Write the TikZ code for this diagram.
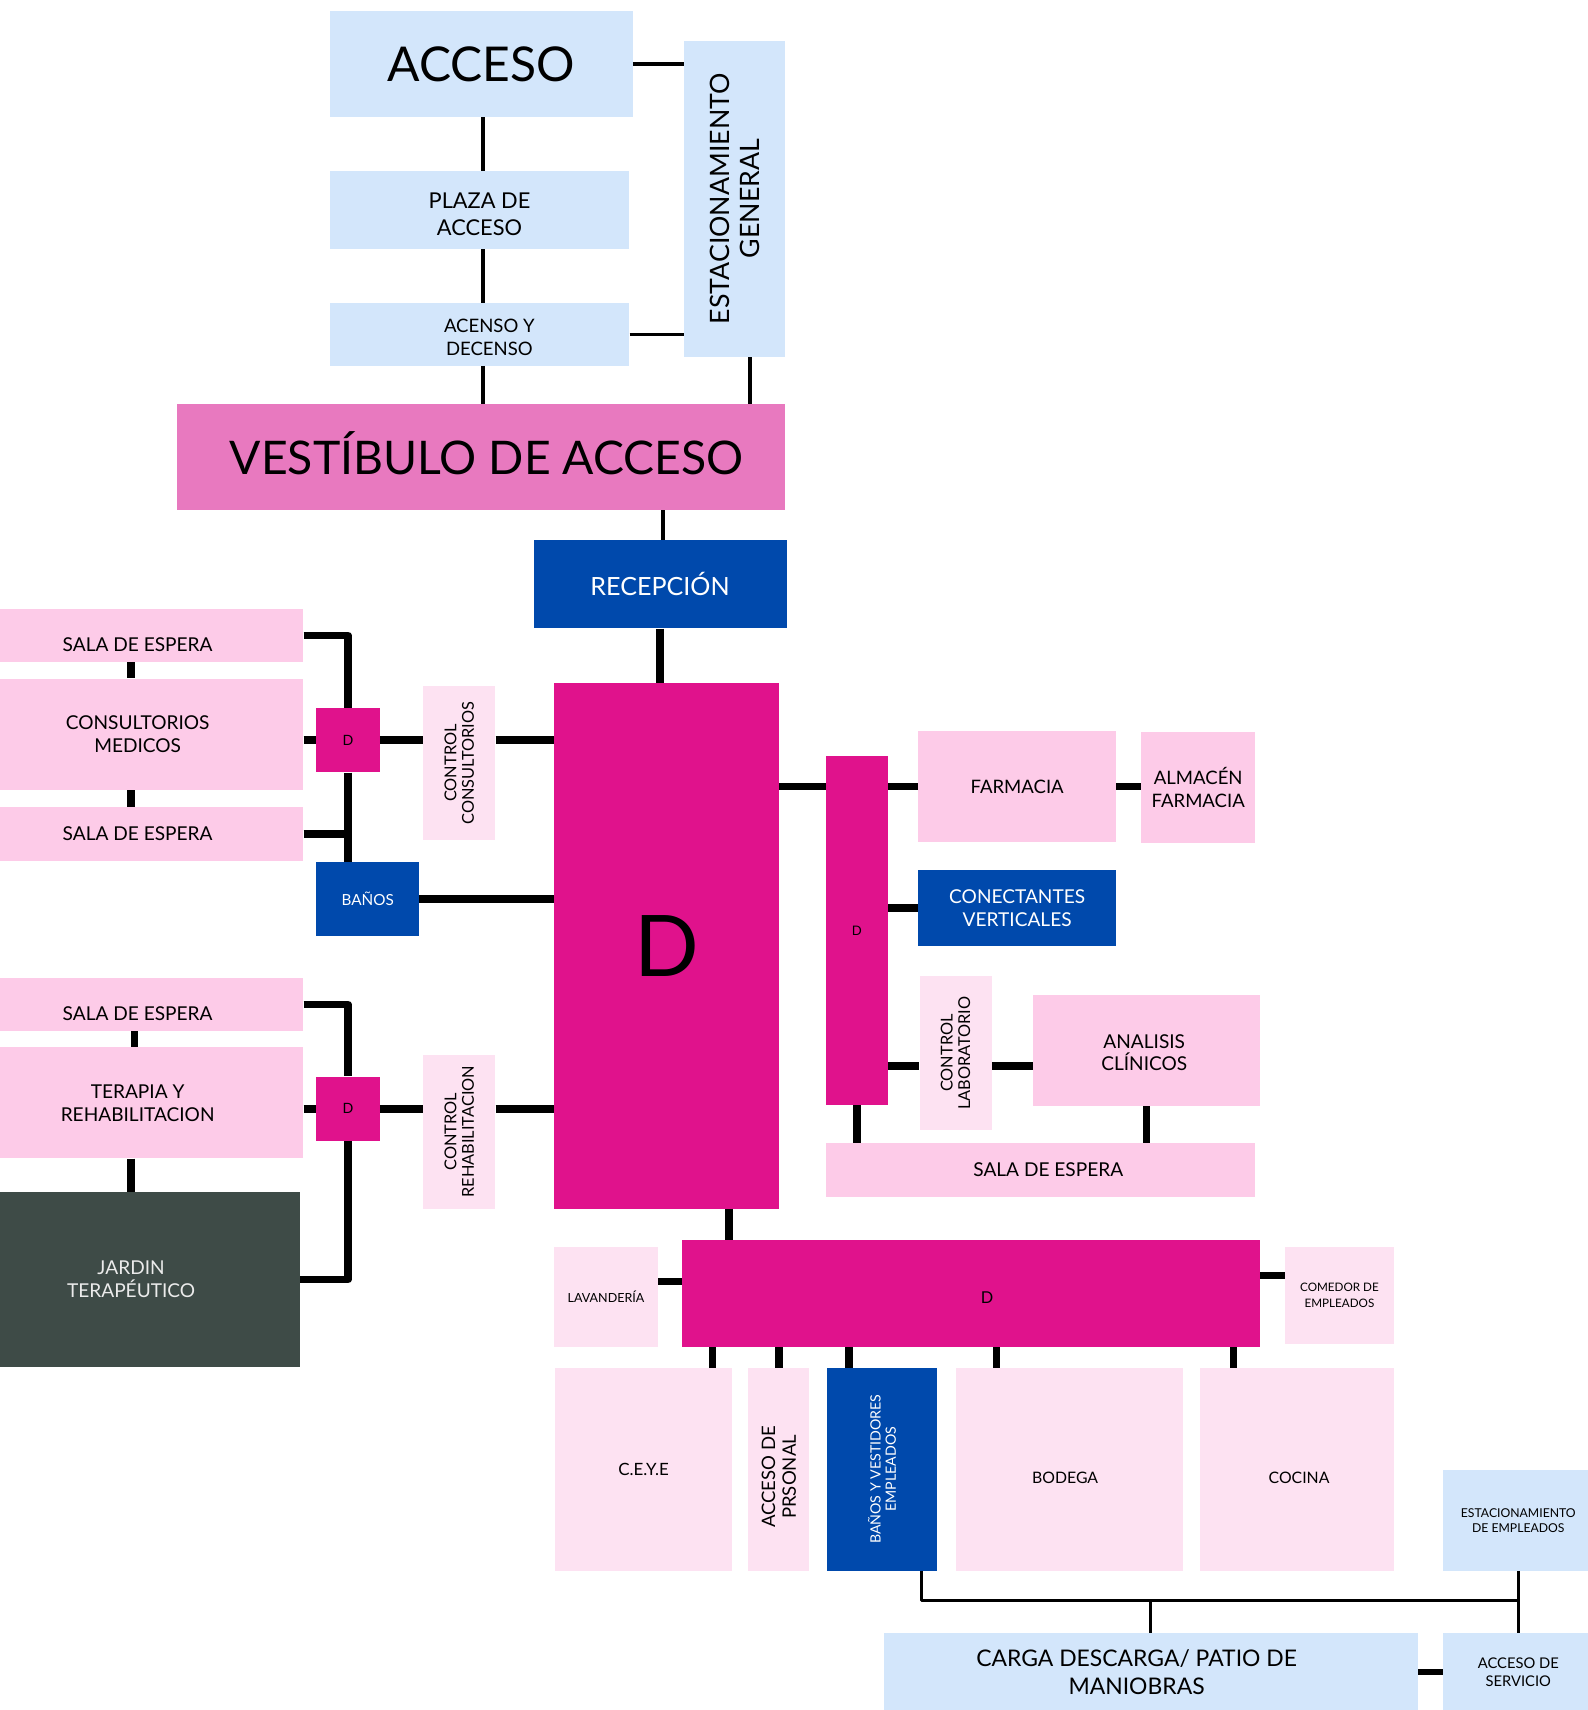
\documentclass[tikz,border=0pt]{standalone}
\usepackage{fontspec}
\setmainfont{Lato}
\usepackage{xcolor}
\definecolor{lBlue}{HTML}{D3E6FB}
\definecolor{pinkA}{HTML}{FDCBE8}
\definecolor{pinkB}{HTML}{FDE2F2}
\definecolor{magD}{HTML}{E0128C}
\definecolor{vestPink}{HTML}{E879BF}
\definecolor{dBlue}{HTML}{0049AC}
\definecolor{jardinGray}{HTML}{3E4B47}
\newcommand{\setfs}[2]{\fontsize{#1}{#2}\selectfont}
\tikzset{
  box/.style={rectangle, inner sep=0pt, anchor=north west, align=center, text=black},
  rot/.style={rotate=90, align=center, inner sep=0pt},
  txt/.style={align=center, inner sep=0pt},
  link/.style={line width=7pt, line join=round},
  thinlink/.style={line width=3.5pt},
  buslink/.style={line width=3pt, line join=round}
}

\begin{document}
\begin{tikzpicture}[x=1pt, y=-1pt]
        \useasboundingbox (0,0) rectangle (1456,1568);
        % acceso principal
        \node [box, fill=lBlue, minimum width=278, minimum height=97, font=\setfs{44}{48}] (acceso) at (302,10) {ACCESO};
        \node [box, fill=lBlue, minimum width=275, minimum height=71,
          label={[txt, yshift=-4pt, font=\setfs{20}{25}]center:PLAZA DE\\ACCESO}] (plaza) at (302,157) {};
        \node [box, fill=lBlue, minimum width=275, minimum height=57,
          label={[txt, xshift=9pt, yshift=-3pt, font=\setfs{17}{21}]center:ACENSO Y\\DECENSO}] (acenso) at (302,278) {};
        \node [box, fill=lBlue, minimum width=93, minimum height=290,
          label={[rot, font=\setfs{24.5}{28}]center:ESTACIONAMIENTO\\GENERAL}] (estgen) at (627,37) {};
        \node [box, fill=vestPink, minimum width=558, minimum height=97,
          label={[txt, xshift=5pt, yshift=3pt, font=\setfs{42.5}{48}]center:VESTÍBULO DE ACCESO}] (vest) at (162,370) {};
        \node [box, fill=dBlue, text=white, minimum width=232, minimum height=81, font=\setfs{23}{26}] (recep) at (489,495) {RECEPCIÓN};
        \node [box, fill=magD, minimum width=206, minimum height=482, font=\setfs{78}{80}] (bigd) at (508,626) {D};

        % consultorios
        \node [box, fill=pinkA, minimum width=304, minimum height=49,
          label={[txt, yshift=-8pt, font=\setfs{17.5}{21}]center:SALA DE ESPERA}] (sala1) at (-26,558) {};
        \node [box, fill=pinkA, minimum width=304, minimum height=102, font=\setfs{17.5}{21}] (cons) at (-26,622) {CONSULTORIOS\\MEDICOS};
        \node [box, fill=pinkA, minimum width=304, minimum height=49, font=\setfs{17.5}{21}] (sala2) at (-26,740) {SALA DE ESPERA};
        \node [box, fill=magD, minimum width=58, minimum height=59, font=\setfs{13}{15}] (dcons) at (290,649) {D};
        \node [box, fill=pinkB, minimum width=66, minimum height=141,
          label={[rot, font=\setfs{15}{16}]center:CONTROL\\CONSULTORIOS}] (ccons) at (388,629) {};
        \node [box, fill=dBlue, text=white, minimum width=94, minimum height=68, font=\setfs{14}{16}] (banos) at (290,790) {BAÑOS};

        % terapia
        \node [box, fill=pinkA, minimum width=304, minimum height=48,
          label={[txt, yshift=-8pt, font=\setfs{17.5}{21}]center:SALA DE ESPERA}] (sala3) at (-26,897) {};
        \node [box, fill=pinkA, minimum width=304, minimum height=102, font=\setfs{17.5}{21}] (ter) at (-26,960) {TERAPIA Y\\REHABILITACION};
        \node [box, fill=jardinGray, text=white!92!black, minimum width=310, minimum height=160, font=\setfs{17.5}{21}] (jardin) at (-35,1093) {JARDIN\\TERAPÉUTICO};
        \node [box, fill=magD, minimum width=58, minimum height=59, font=\setfs{13}{15}] (dter) at (290,987) {D};
        \node [box, fill=pinkB, minimum width=66, minimum height=141,
          label={[rot, font=\setfs{15}{16}]center:CONTROL\\REHABILITACION}] (crehab) at (388,967) {};

        % farmacia y laboratorio
        \node [box, fill=magD, minimum width=57, minimum height=320, font=\setfs{12}{14}] (dv) at (757,693) {D};
        \node [box, fill=pinkA, minimum width=181, minimum height=102, font=\setfs{17}{21}] (farm) at (842,670) {FARMACIA};
        \node [box, fill=pinkA, minimum width=105, minimum height=102, font=\setfs{17}{21}] (alm) at (1046,671) {ALMACÉN\\FARMACIA};
        \node [box, fill=dBlue, text=white, minimum width=181, minimum height=69, font=\setfs{17.5}{21}] (conect) at (842,798) {CONECTANTES\\VERTICALES};
        \node [box, fill=pinkB, minimum width=66, minimum height=141,
          label={[rot, font=\setfs{15}{16}]center:CONTROL\\LABORATORIO}] (clab) at (843,895) {};
        \node [box, fill=pinkA, minimum width=208, minimum height=102,
          label={[txt, xshift=-2pt, yshift=-2pt, font=\setfs{17.5}{21}]center:ANALISIS\\CLÍNICOS}] (anal) at (947,912) {};
        \node [box, fill=pinkA, minimum width=394, minimum height=49,
          label={[txt, xshift=7pt, font=\setfs{17.5}{21}]center:SALA DE ESPERA}] (sala4) at (757,1048) {};

        % servicios
        \node [box, fill=magD, minimum width=530, minimum height=98,
          label={[txt, xshift=15pt, yshift=-4pt, font=\setfs{15}{17}]center:D}] (dh) at (625,1137) {};
        \node [box, fill=pinkB, minimum width=95, minimum height=92, font=\setfs{11.5}{14}] (lav) at (508,1143) {LAVANDERÍA};
        \node [box, fill=pinkB, minimum width=100, minimum height=89, font=\setfs{10.7}{14}] (com) at (1178,1143) {COMEDOR DE\\EMPLEADOS};
        \node [box, fill=pinkB, minimum width=162, minimum height=186, font=\setfs{15.5}{18}] (ceye) at (509,1254) {C.E.Y.E};
        \node [box, fill=pinkB, minimum width=56, minimum height=186,
          label={[rot, xshift=-7pt, font=\setfs{17}{19}]center:ACCESO DE\\PRSONAL}] (accp) at (686,1254) {};
        \node [box, fill=dBlue, minimum width=101, minimum height=186,
          label={[rot, text=white, font=\setfs{13}{14}]center:BAÑOS Y VESTIDORES\\EMPLEADOS}] (bv) at (758,1254) {};
        \node [box, fill=pinkB, minimum width=209, minimum height=186,
          label={[txt, xshift=-4pt, yshift=-8pt, font=\setfs{14.5}{18}]center:BODEGA}] (bod) at (876,1254) {};
        \node [box, fill=pinkB, minimum width=178, minimum height=186,
          label={[txt, xshift=2pt, yshift=-8pt, font=\setfs{14.5}{18}]center:COCINA}] (coc) at (1100,1254) {};
        \node [box, fill=lBlue, minimum width=138, minimum height=92, font=\setfs{11.2}{14}] (estemp) at (1323,1348) {ESTACIONAMIENTO\\DE EMPLEADOS};
        \node [box, fill=lBlue, minimum width=490, minimum height=72,
          label={[txt, xshift=-13pt, font=\setfs{21}{26}]center:CARGA DESCARGA/ PATIO DE\\MANIOBRAS}] (carga) at (810,1497) {};
        \node [box, fill=lBlue, minimum width=138, minimum height=72, font=\setfs{13.5}{17}] (serv) at (1323,1497) {ACCESO DE\\SERVICIO};

        % conexiones
        \draw [thinlink] (acceso) -- (estgen.west |- acceso);
        \draw [thinlink] (acenso) -- (estgen.west |- acenso);
        \draw [thinlink] ([xshift=3pt]acceso.south -| plaza.north) -- ([xshift=3pt]plaza.north);
        \draw [thinlink] ([xshift=3pt]plaza.south) -- ([xshift=3pt]acenso.north);
        \draw [thinlink] ([xshift=3pt]acenso.south) -- ([xshift=3pt]acenso.south |- vest.north);
        \draw [thinlink] ([xshift=14pt]estgen.south) -- ([xshift=14pt]estgen.south |- vest.north);
        \draw [thinlink] ([xshift=3pt]recep.north) -- ([xshift=3pt]recep.north |- vest.south);
        \draw [link] (recep) -- (recep |- bigd.north);

        \draw [link] (sala1) -| (dcons);
        \draw [link] (sala2) -- (sala2 -| dcons);
        \draw [link] (dcons) -- (dcons |- banos.north);
        \draw [link] (cons.east |- dcons) -- (dcons.west);
        \draw [link] (dcons) -- (ccons.west |- dcons);
        \draw [link] (ccons.east |- dcons) -- (bigd.west |- dcons);
        \draw [link] (banos) -- (bigd.west |- banos);
        \draw [link] ([xshift=-6pt]sala1.south) -- ([xshift=-6pt]cons.north);
        \draw [link] ([xshift=-6pt]cons.south) -- ([xshift=-6pt]sala2.north);

        \draw [link] (sala3) -| (dter);
        \draw [link] (dter) |- (jardin);
        \draw [link] (ter.east |- dter) -- (dter.west);
        \draw [link] (dter) -- (crehab.west |- dter);
        \draw [link] (crehab.east |- dter) -- (bigd.west |- dter);
        \draw [link] ([xshift=-3pt]sala3.south) -- ([xshift=-3pt]ter.north);
        \draw [link] (ter.south -| jardin) -- (jardin);

        \draw [link] (bigd.east |- farm) -- (dv.west |- farm);
        \draw [link] (dv.east |- farm) -- (farm);
        \draw [link] (farm) -- (alm.west |- farm);
        \draw [link] (dv.east |- conect) -- (conect);
        \coordinate (labrow) at ([yshift=-14pt]anal.west);
        \draw [link] (dv.east |- labrow) -- (clab.west |- labrow);
        \draw [link] (clab.east |- labrow) -- (labrow);
        \draw [link] (dv) -- (dv |- sala4.north);
        \draw [link] (anal) -- (anal |- sala4.north);

        \draw [link] ([xshift=57pt]bigd.south) -- ([xshift=57pt]bigd.south |- dh.north);
        \coordinate (lavrow) at ([yshift=14pt]lav.east);
        \draw [link] (lavrow) -- (dh.west |- lavrow);
        \coordinate (comrow) at ([yshift=18pt]com.west);
        \draw [link] (comrow) -- (dh.east |- comrow);
        \draw [link] ([xshift=63pt]ceye.north) -- ([xshift=63pt]ceye.north |- dh.south);
        \draw [link] (accp) -- (accp |- dh.south);
        \draw [link] ([xshift=-30pt]bv.north) -- ([xshift=-30pt]bv.north |- dh.south);
        \draw [link] ([xshift=-67pt]bod.north) -- ([xshift=-67pt]bod.north |- dh.south);
        \draw [link] ([xshift=-58pt]coc.north) -- ([xshift=-58pt]coc.north |- dh.south);

        \coordinate (bus) at ([yshift=-27pt]estemp.south);
        \draw [buslink] ([xshift=36pt]bv.south) |- (bus);
        \draw [buslink] (estemp) -- (serv);
        \draw [buslink] (carga) -- (carga |- bus);
        \draw [line width=5pt] (carga) -- (serv);
      \end{tikzpicture}
\end{document}
